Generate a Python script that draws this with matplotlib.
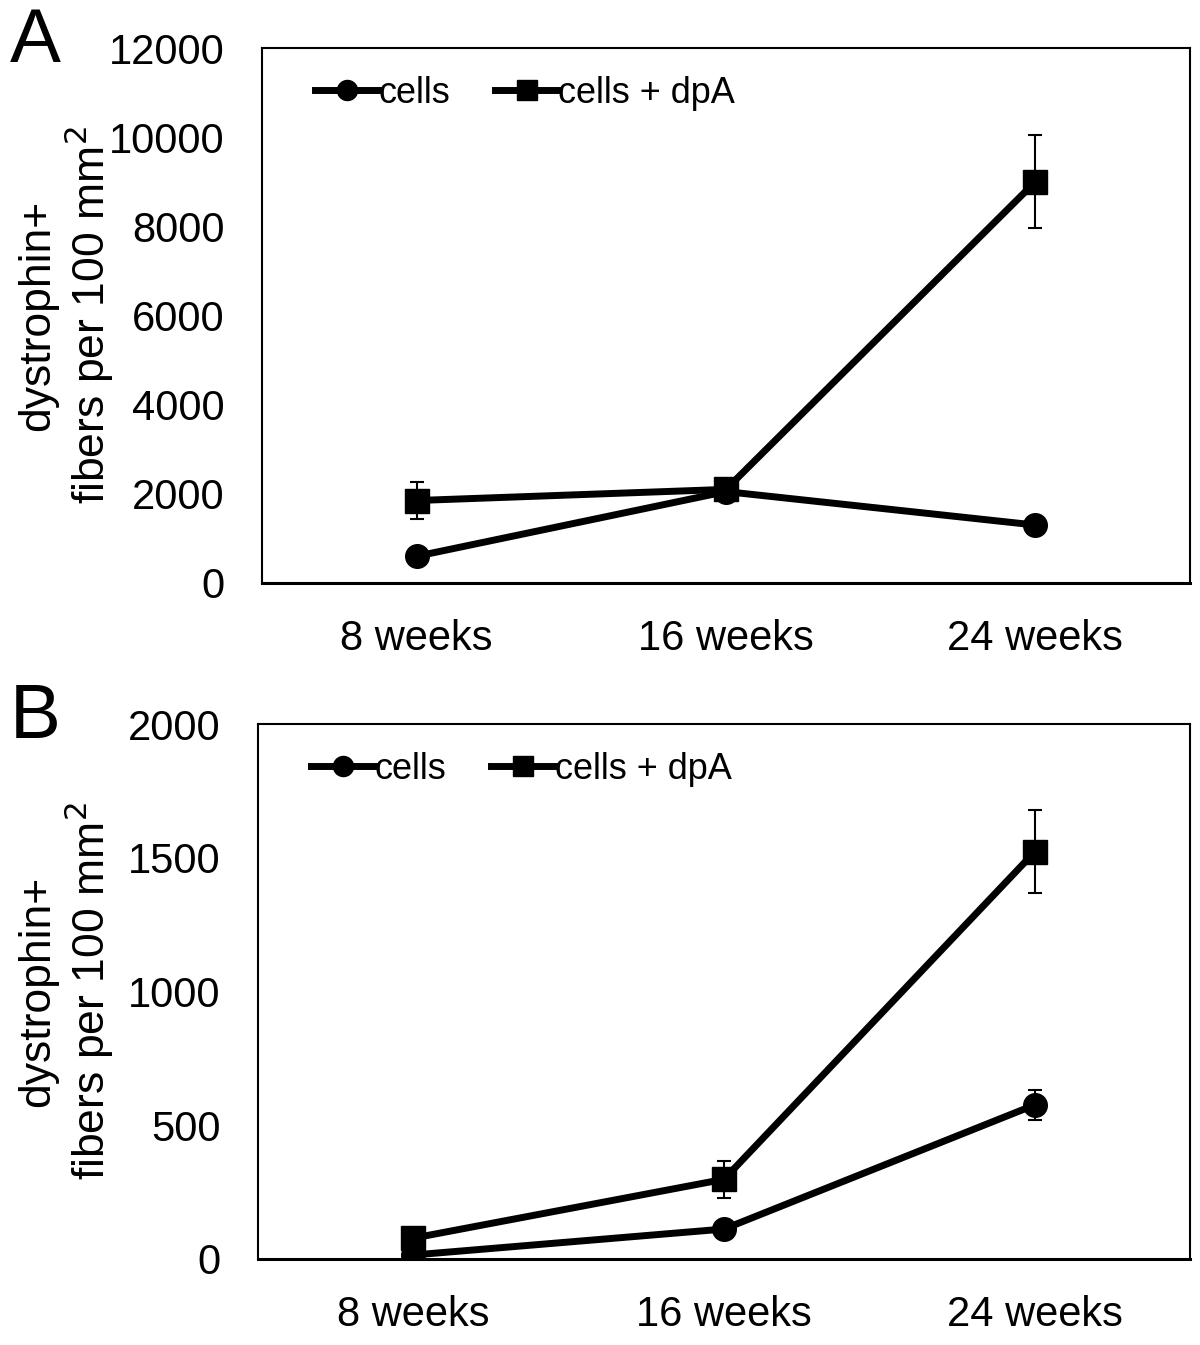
import matplotlib
matplotlib.use("Agg")
import matplotlib.pyplot as plt

plt.rcParams["font.family"] = ["Liberation Sans", "DejaVu Sans"]

weeks = ["8 weeks", "16 weeks", "24 weeks"]

# panel A
a_cells = [600, 2050, 1300]
a_cells_err = [0, 0, 0]
a_dpa = [1850, 2100, 9000]
a_dpa_err = [410, 0, 1040]

# panel B
b_cells = [15, 112, 576]
b_cells_err = [0, 0, 56]
b_dpa = [78, 298, 1522]
b_dpa_err = [0, 70, 155]

W, H = 1200, 1345
fig = plt.figure(figsize=(W / 100, H / 100), dpi=100)
ax_a = fig.add_axes([262 / W, 1 - 583 / H, 928 / W, 535 / H])
ax_b = fig.add_axes([258 / W, 1 - 1259 / H, 932 / W, 535 / H])


def draw(ax, cells, cells_err, dpa, dpa_err, ymax, step, left, width):
    x = range(len(weeks))
    ax.errorbar(x, cells, yerr=cells_err, fmt="none", ecolor="black",
                elinewidth=1.5, capsize=5, capthick=1.5, zorder=2)
    ax.errorbar(x, dpa, yerr=dpa_err, fmt="none", ecolor="black",
                elinewidth=1.5, capsize=5, capthick=1.5, zorder=2)
    ax.plot(x, cells, "-o", color="black", lw=5, ms=17, label="cells", zorder=3)
    ax.plot(x, dpa, "-s", color="black", lw=5, ms=17, label="cells + dpA", zorder=3)
    ax.set_xlim(-0.5, 2.5)
    ax.set_ylim(0, ymax)
    ax.set_yticks(range(0, ymax + 1, step))
    ax.set_xticks(list(x))
    ax.set_xticklabels(weeks)
    ax.tick_params(axis="both", length=0, labelsize=30)
    ax.tick_params(axis="x", pad=26)
    ax.tick_params(axis="y", pad=27)
    for s in ax.spines.values():
        s.set_linewidth(1.5)
    ax.spines["bottom"].set_linewidth(2.2)
    ax.set_ylabel("dystrophin+\nfibers per 100 mm$^2$", fontsize=32,
                  linespacing=1.1)
    # right edge of the label block sits about 115 px from the left edge
    ax.yaxis.set_label_coords((116 - left) / width, 0.5)
    ax.legend(loc="upper left", ncol=2, frameon=False, fontsize=26,
              handlelength=1.75, handletextpad=0.0, columnspacing=1.25,
              bbox_to_anchor=(0.03, 0.995), markerscale=0.85,
              borderaxespad=0.3)


draw(ax_a, a_cells, a_cells_err, a_dpa, a_dpa_err, 12000, 2000, 262, 928)
draw(ax_b, b_cells, b_cells_err, b_dpa, b_dpa_err, 2000, 500, 258, 932)

fig.text(10 / W, 1 - 62 / H, "A", fontsize=55, ha="left", va="baseline")
fig.text(10 / W, 1 - 738 / H, "B", fontsize=55, ha="left", va="baseline")

fig.savefig("out.png", dpi=100)
